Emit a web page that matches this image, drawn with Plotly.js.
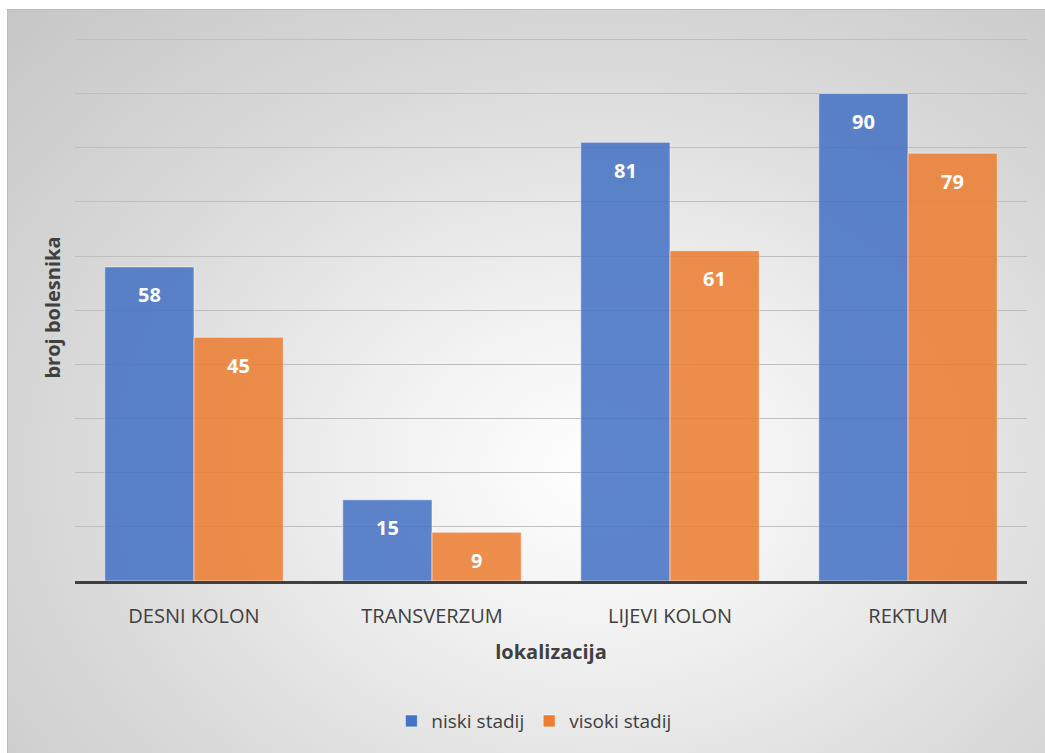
<!DOCTYPE html>
<html>
<head>
<meta charset="utf-8">
<script src="https://cdn.plot.ly/plotly-3.0.1.min.js"></script>
<style>
html,body{margin:0;padding:0;background:#ffffff;width:1045px;height:753px;overflow:hidden;}
#bg{position:absolute;left:7px;top:9px;width:1038px;height:744px;box-sizing:border-box;border-left:1px solid #bdbdbd;border-top:1px solid #bdbdbd;
background:radial-gradient(ellipse farthest-corner at 57% 62%, #ffffff 0%, #f0f0f0 28%, #dadada 62%, #c6c6c6 100%);}
#chart{position:absolute;left:0;top:0;width:1045px;height:753px;}
</style>
</head>
<body>
<div id="bg"></div>
<div id="chart"></div>
<script>
const categories = ["DESNI KOLON", "TRANSVERZUM", "LIJEVI KOLON", "REKTUM"];
const niskiStadij = [58, 15, 81, 90];
const visokiStadij = [45, 9, 61, 79];
const seriesNames = ["niski stadij", "visoki stadij"];

const font = "'Open Sans', 'Noto Sans', sans-serif";
const labelFont = {family: font, size: 20, color: "#ffffff", weight: 700};

const traces = [
  {type: "bar", name: seriesNames[0], x: categories, y: niskiStadij,
   marker: {color: "#4472C4", opacity: 0.86, line: {color: "rgba(255,255,255,0.55)", width: 1}},
   hoverinfo: "none"},
  {type: "bar", name: seriesNames[1], x: categories, y: visokiStadij,
   marker: {color: "#ED7D31", opacity: 0.86, line: {color: "rgba(255,255,255,0.55)", width: 1}},
   hoverinfo: "none"}
];

// data labels, inside end of each bar
const annotations = [];
[niskiStadij, visokiStadij].forEach((vals, si) => {
  vals.forEach((v, i) => {
    annotations.push({
      x: categories[i], y: v, xref: "x", yref: "y",
      text: String(v), showarrow: false,
      xanchor: "center", yanchor: "middle",
      xshift: si === 0 ? -44.5 : 44.5, yshift: -28,
      font: labelFont
    });
  });
});

const layout = {
  width: 1045, height: 753,
  paper_bgcolor: "rgba(0,0,0,0)", plot_bgcolor: "rgba(0,0,0,0)",
  margin: {l: 75, r: 18, t: 34, b: 172},
  barmode: "group", bargap: 0.25, bargroupgap: 0,
  font: {family: font, color: "#404040"},
  xaxis: {
    showgrid: false, showline: true, linecolor: "#404040", linewidth: 3,
    ticks: "", ticklabelstandoff: 15, tickfont: {family: font, size: 20, color: "#404040"},
    title: {text: "lokalizacija", font: {family: font, size: 20, color: "#404040", weight: 700}, standoff: 17}
  },
  yaxis: {
    range: [0, 101], dtick: 10, showticklabels: false, ticks: "",
    showgrid: true, gridcolor: "#bfbfbf", gridwidth: 1, zeroline: false,
    title: {text: "broj bolesnika", font: {family: font, size: 20, color: "#404040", weight: 700}, standoff: 8}
  },
  annotations: annotations,
  showlegend: true,
  legend: {orientation: "h", x: 0.482, xanchor: "center", y: -0.256, yanchor: "middle",
           font: {family: font, size: 19, color: "#404040"}, bgcolor: "rgba(0,0,0,0)", itemwidth: 30},
};

Plotly.newPlot("chart", traces, layout, {displayModeBar: false, staticPlot: true});
</script>
</body>
</html>
